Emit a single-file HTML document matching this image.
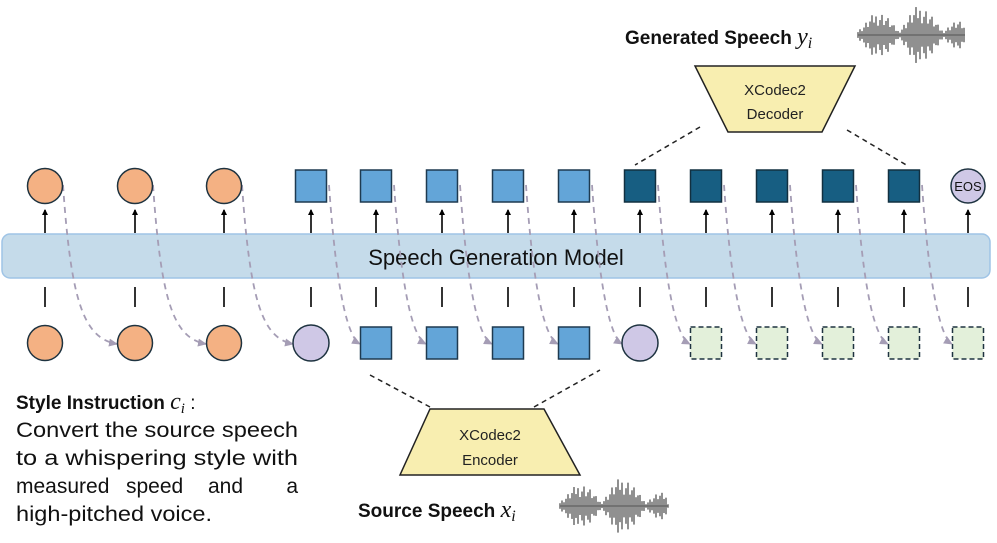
<!DOCTYPE html>
<html><head><meta charset="utf-8"><style>
html,body{margin:0;padding:0;background:#fff;width:997px;height:543px;overflow:hidden}
svg{display:block}
text{font-family:"Liberation Sans",sans-serif}
.st{font-size:21px;fill:#111}
</style></head><body>
<svg id="s" width="997" height="543" viewBox="0 0 997 543" xmlns="http://www.w3.org/2000/svg">
<defs>
<marker id="ah" markerWidth="6" markerHeight="6" refX="5" refY="3" orient="auto" markerUnits="userSpaceOnUse"><path d="M0,0 L6,3 L0,6 z" fill="#000"/></marker>
<marker id="gh" markerWidth="9" markerHeight="8" refX="8" refY="4" orient="auto" markerUnits="userSpaceOnUse"><path d="M0,0 L9,4 L0,8 z" fill="#a59db5"/></marker>
</defs>
<rect x="2" y="234" width="988" height="44" rx="8" fill="#c5dbea" stroke="#9fc4e6" stroke-width="1.5"/>
<text x="496" y="265" font-size="22" text-anchor="middle" fill="#111">Speech Generation Model</text>
<g id="g"></g>
<polygon points="695,66 855,66 822,132 728,132" fill="#f8eeb0" stroke="#222" stroke-width="1.5"/>
<text x="775" y="95" font-size="15" text-anchor="middle" fill="#222">XCodec2</text>
<text x="775" y="119" font-size="15" text-anchor="middle" fill="#222">Decoder</text>
<line x1="700" y1="127" x2="635" y2="165" stroke="#222" stroke-width="1.5" stroke-dasharray="5,4"/>
<line x1="847" y1="130" x2="908" y2="166" stroke="#222" stroke-width="1.5" stroke-dasharray="5,4"/>
<polygon points="430,409 544,409 580,475 400,475" fill="#f8eeb0" stroke="#222" stroke-width="1.5"/>
<text x="490" y="440" font-size="15" text-anchor="middle" fill="#222">XCodec2</text>
<text x="490" y="465" font-size="15" text-anchor="middle" fill="#222">Encoder</text>
<line x1="370" y1="375" x2="430" y2="407" stroke="#222" stroke-width="1.5" stroke-dasharray="5,4"/>
<line x1="534" y1="407" x2="600" y2="370" stroke="#222" stroke-width="1.5" stroke-dasharray="5,4"/>
<text x="625" y="44" font-size="19" font-weight="bold" fill="#111">Generated Speech <tspan font-family="Liberation Serif" font-style="italic" font-weight="normal" font-size="24">y</tspan><tspan font-family="Liberation Serif" font-style="italic" font-weight="normal" font-size="16" dy="4">i</tspan></text>
<text x="358" y="517" font-size="19" font-weight="bold" fill="#111">Source Speech <tspan font-family="Liberation Serif" font-style="italic" font-weight="normal" font-size="24">x</tspan><tspan font-family="Liberation Serif" font-style="italic" font-weight="normal" font-size="16" dy="4">i</tspan></text>
<text x="16" y="409" font-size="19" font-weight="bold" fill="#111">Style Instruction <tspan font-family="Liberation Serif" font-style="italic" font-weight="normal" font-size="24">c</tspan><tspan font-family="Liberation Serif" font-style="italic" font-weight="normal" font-size="15" dy="4">i</tspan><tspan dy="-4" font-weight="normal"> :</tspan></text>
<text class="st" x="16" y="437" textLength="282" lengthAdjust="spacingAndGlyphs">Convert the source speech</text>
<text class="st" x="16" y="465" textLength="282" lengthAdjust="spacingAndGlyphs">to a whispering style with</text>
<text class="st" y="493"><tspan x="16">measured</tspan><tspan x="126">speed</tspan><tspan x="208">and</tspan><tspan x="286" text-anchor="end" dx="12">a</tspan></text>
<text class="st" x="16" y="521" textLength="196" lengthAdjust="spacingAndGlyphs">high-pitched voice.</text>
<g id="w1"></g><g id="w2"></g>
</svg>
<script>
var ns="http://www.w3.org/2000/svg",G=document.getElementById("g");
function el(t,a,p){var e=document.createElementNS(ns,t);for(var k in a)e.setAttribute(k,a[k]);(p||G).appendChild(e);return e;}
var xs=[45,135,224,311,376,442,508,574,640,706,772,838,904,968];
var tops=["o","o","o","b","b","b","b","b","d","d","d","d","d","e"];
var bots=["o","o","o","p","b","b","b","b","p","g","g","g","g","g"];
function shape(t,x,y){
 if(t=="o")el("circle",{cx:x,cy:y,r:17.5,fill:"#f4b183",stroke:"#1e3340","stroke-width":1.5});
 else if(t=="p")el("circle",{cx:x,cy:y,r:18,fill:"#cfc8e6",stroke:"#1e3340","stroke-width":1.5});
 else if(t=="e"){el("circle",{cx:x,cy:y,r:17,fill:"#cfc8e6",stroke:"#1e3340","stroke-width":1.5});var tt=el("text",{x:x,y:y+5,"font-size":13,"text-anchor":"middle",fill:"#111"});tt.textContent="EOS";}
 else if(t=="b")el("rect",{x:x-15.5,y:y-16,width:31,height:32,fill:"#63a5d8",stroke:"#1e3a50","stroke-width":1.5});
 else if(t=="d")el("rect",{x:x-15.5,y:y-16,width:31,height:32,fill:"#175e82",stroke:"#123040","stroke-width":1.5});
 else if(t=="g")el("rect",{x:x-15.5,y:y-16,width:31,height:32,fill:"#e3f0da",stroke:"#1e3340","stroke-width":1.5,"stroke-dasharray":"5,3"});
}
for(var i=0;i<xs.length;i++){
 var x=xs[i];
 el("line",{x1:x,y1:233,x2:x,y2:210,stroke:"#000","stroke-width":1.6,"marker-end":"url(#ah)"});
 el("line",{x1:x,y1:287,x2:x,y2:307,stroke:"#000","stroke-width":1.6});
 if(i<xs.length-1){
  var sx=x+18,ex=xs[i+1]-(bots[i+1]=="o"||bots[i+1]=="p"?18:16);
  el("path",{d:"M"+sx+",185 C"+(sx+8)+",300 "+(sx+20)+",338 "+ex+",344",fill:"none",stroke:"#a59db5","stroke-width":1.8,"stroke-dasharray":"6,5","marker-end":"url(#gh)"});
 }
}
for(var i=0;i<xs.length;i++){shape(tops[i],xs[i],186);shape(bots[i],xs[i],343);}
function wave(id,x0,x1,cy,h){var p=document.getElementById(id);el("line",{x1:x0,y1:cy,x2:x1,y2:cy,stroke:"#555","stroke-width":1},p);
 var n=0;for(var x=x0;x<=x1;x+=2){n++;var t=(x-x0)/(x1-x0);var env=0.15+0.85*Math.pow(Math.abs(Math.sin(t*7.5+0.3)),1.3)*Math.pow(Math.sin(t*Math.PI),0.5);
 var r=((n*37)%11)/10;var a=h*env*(0.4+0.6*r);
 el("line",{x1:x,y1:cy-a,x2:x,y2:cy+a,stroke:"#555","stroke-width":1.3},p);}}
wave("w1",858,965,35,30);wave("w2",560,668,506,29);
</script>
</body></html>
